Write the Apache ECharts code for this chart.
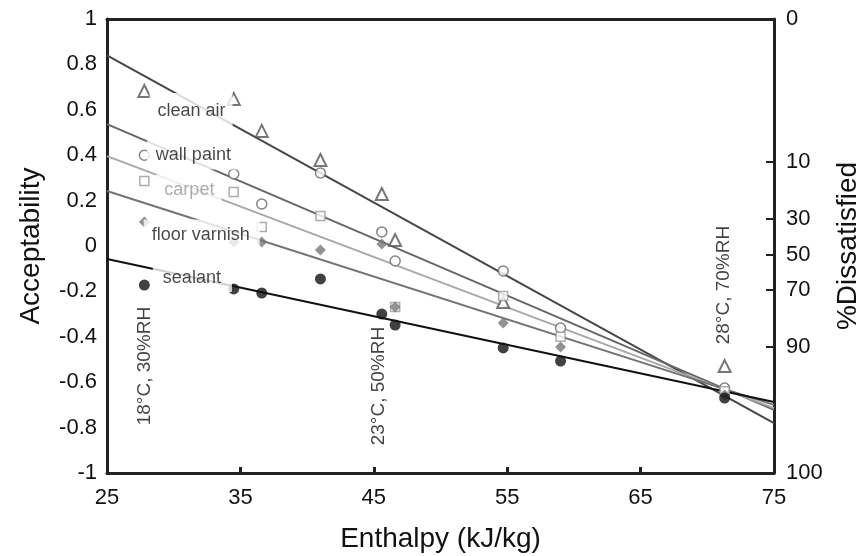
<!DOCTYPE html>
<html>
<head>
<meta charset="utf-8">
<script src="https://cdn.jsdelivr.net/npm/echarts@6/dist/echarts.min.js"></script>
<style>
html,body{margin:0;padding:0;background:#fff;}
#chart{width:866px;height:556px;}
</style>
</head>
<body>
<div id="chart"></div>
<script>
// ---- data ----
const enthalpy = [27.8, 34.5, 36.6, 41.0, 45.6, 46.6, 54.7, 59.0, 71.3];
const cleanAir = [0.683, 0.648, 0.507, 0.379, 0.229, 0.026, -0.247, null, -0.529];
const wallPaint = [0.40, 0.317, 0.185, 0.322, 0.062, -0.066, -0.11, -0.361, -0.626];
const carpet = [0.286, 0.238, 0.084, 0.132, null, -0.269, -0.22, -0.40, -0.64];
const floorVarnish = [0.106, 0.018, 0.018, -0.018, 0.009, -0.269, -0.339, -0.445, -0.656];
const sealant = [-0.172, -0.189, -0.207, -0.145, -0.30, -0.348, -0.449, -0.507, -0.67];

// regression line end values at enthalpy 25 and 75
const fitX = [25, 75];
const fitCleanAir = [0.84, -0.78];
const fitWallPaint = [0.537, -0.722];
const fitCarpet = [0.396, -0.714];
const fitFloorVarnish = [0.242, -0.70];
const fitSealant = [-0.057, -0.687];

const seriesNames = ['clean air', 'wall paint', 'carpet', 'floor varnish', 'sealant'];
const seriesLabelPos = [[31.3, 0.595], [31.4, 0.401], [31.1, 0.247], [32.1, 0.048], [31.4, -0.141]];

const conditionLabels = ['18°C, 30%RH', '23°C, 50%RH', '28°C, 70%RH'];
const conditionPos = [[27.85, -0.529], [45.35, -0.617], [71.25, -0.172]];

const xTicks = [25, 35, 45, 55, 65, 75];
const dissatTickLabels = ['0', '10', '30', '50', '70', '90', '100'];
const dissatTickAcc = [1, 0.370, 0.119, -0.040, -0.194, -0.445, -1];

// ---- chart ----
const FONT = 'Liberation Sans';
const frame = {show: true, onZero: false, lineStyle: {color: '#222', width: 3}};
const pts = arr => enthalpy.map((e, i) => arr[i] === null ? null : [e, arr[i]]).filter(p => p);
const fit = arr => fitX.map((x, i) => [x, arr[i]]);

const lineColors = ['#474747', '#666666', '#a8a8a8', '#737373', '#111111'];
const labelPads = [[11, 7, 7, 8], [6, 7, 5, 9], [9, 7, 4, 9], [9, 10, 4, 8], [5, 11, 5, 10]];
const fits = [fitCleanAir, fitWallPaint, fitCarpet, fitFloorVarnish, fitSealant];
const series = [];
fits.forEach((f, i) => {
  series.push({
    type: 'line', data: fit(f), symbol: 'none', silent: true, z: 2,
    lineStyle: {color: lineColors[i], width: 2}
  });
});
series.push({type: 'scatter', data: pts(cleanAir), symbol: 'triangle', symbolSize: 12, z: 3,
  itemStyle: {color: '#fff', borderColor: '#555', borderWidth: 2}});
series.push({type: 'scatter', data: pts(wallPaint), symbol: 'circle', symbolSize: 10, z: 3,
  itemStyle: {color: '#fff', borderColor: '#666', borderWidth: 1.5}});
series.push({type: 'scatter', data: pts(carpet), symbol: 'rect', symbolSize: 9, z: 3,
  itemStyle: {color: '#fff', borderColor: '#999', borderWidth: 1.5}});
series.push({type: 'scatter', data: pts(floorVarnish), symbol: 'diamond', symbolSize: 11, z: 4,
  itemStyle: {color: '#777'}});
series.push({type: 'scatter', data: pts(sealant), symbol: 'circle', symbolSize: 11, z: 4,
  itemStyle: {color: '#111'}});
// series name labels with white boxes
series.push({
  type: 'scatter', symbolSize: 0, z: 10, silent: true,
  data: seriesNames.map((n, i) => ({value: seriesLabelPos[i], name: n,
    label: {color: i === 2 ? '#999' : '#1a1a1a', padding: labelPads[i]}})),
  label: {show: true, position: 'inside', formatter: p => p.name, fontFamily: FONT, fontSize: 18,
    backgroundColor: '#fff'}
});
// condition labels (rotated)
series.push({
  type: 'scatter', symbolSize: 0, z: 10, silent: true,
  data: conditionLabels.map((n, i) => ({value: conditionPos[i], name: n})),
  label: {show: true, position: 'inside', rotate: 90, formatter: p => p.name, fontFamily: FONT,
    fontSize: 19, color: '#111'}
});

const option = {
  animation: false,
  backgroundColor: '#fff',
  grid: {left: 107, right: 92, top: 19, bottom: 83, containLabel: false, outerBoundsMode: 'none'},
  xAxis: [{
    type: 'value', min: 25, max: 75, interval: 10,
    axisLine: frame,
    axisTick: {show: true, inside: true, length: 6, lineStyle: {color: '#222', width: 3},
      customValues: xTicks.slice(1, -1)},
    axisLabel: {fontFamily: FONT, fontSize: 22, color: '#111', margin: 14, customValues: xTicks},
    splitLine: {show: false},
    name: 'Enthalpy (kJ/kg)', nameLocation: 'middle', nameGap: 52,
    nameTextStyle: {fontFamily: FONT, fontSize: 28, color: '#111'}
  }, {
    type: 'value', min: 25, max: 75, position: 'top',
    axisLine: frame, axisTick: {show: false}, axisLabel: {show: false}, splitLine: {show: false}
  }],
  yAxis: [{
    type: 'value', min: -1, max: 1, interval: 0.2,
    axisLine: frame, axisTick: {show: false},
    axisLabel: {fontFamily: FONT, fontSize: 22, color: '#111', margin: 10,
      formatter: v => String(Number(v.toFixed(1)))},
    splitLine: {show: false},
    name: 'Acceptability', nameLocation: 'middle', nameGap: 62, nameRotate: 90,
    nameTextStyle: {fontFamily: FONT, fontSize: 28, color: '#111'}
  }, {
    type: 'value', min: -1, max: 1, position: 'right',
    axisLine: frame,
    axisTick: {show: true, inside: true, length: 8, lineStyle: {color: '#222', width: 2},
      customValues: dissatTickAcc.slice(1, -1)},
    axisLabel: {fontFamily: FONT, fontSize: 22, color: '#111', margin: 12,
      customValues: dissatTickAcc,
      formatter: v => {
        let best = 0;
        dissatTickAcc.forEach((a, i) => { if (Math.abs(a - v) < Math.abs(dissatTickAcc[best] - v)) best = i; });
        return dissatTickLabels[best];
      }},
    splitLine: {show: false},
    name: '%Dissatisfied', nameLocation: 'middle', nameGap: 60, nameRotate: 90,
    nameTextStyle: {fontFamily: FONT, fontSize: 28, color: '#111'}
  }],
  series: series
};

const chart = echarts.init(document.getElementById('chart'), null, {renderer: 'canvas'});
chart.setOption(option);
</script>
</body>
</html>
